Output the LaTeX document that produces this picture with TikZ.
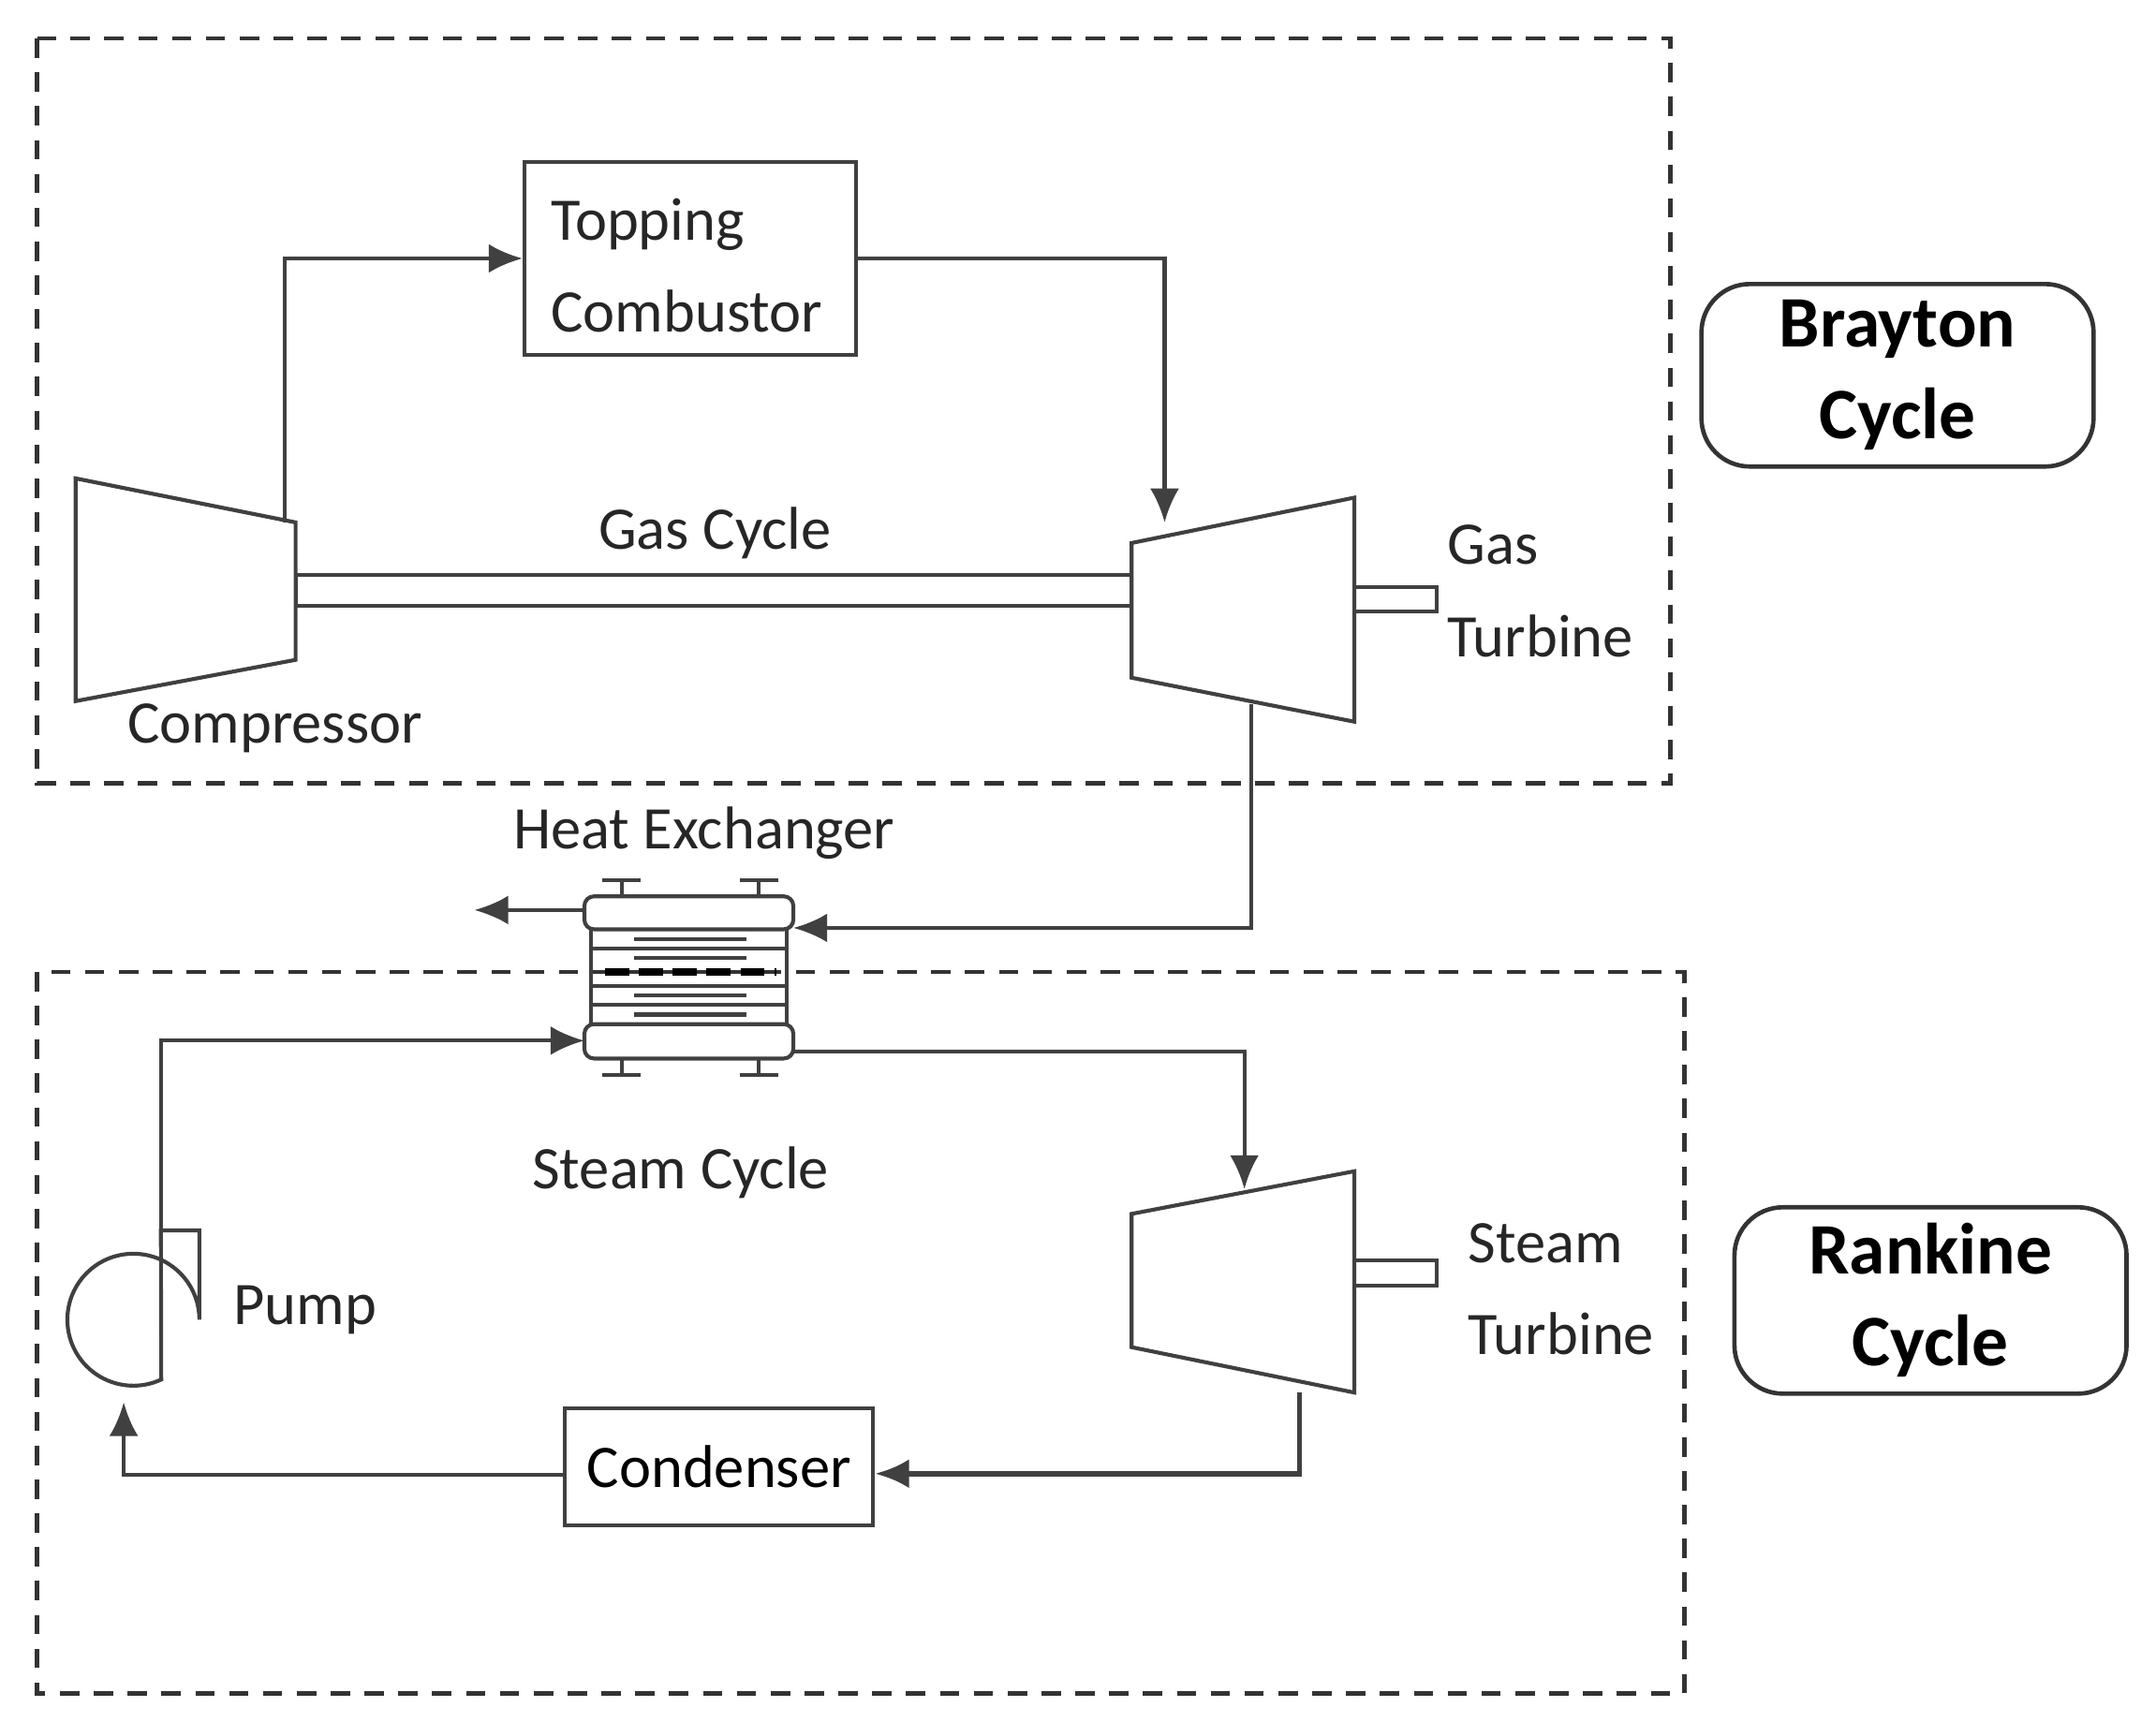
\documentclass[tikz,border=0pt]{standalone}
\usepackage{fontspec}
\setmainfont{Carlito}
\usetikzlibrary{arrows.meta}
\begin{document}
\begin{tikzpicture}[x=0.01cm,y=-0.01cm,
  ln/.style={draw=black!75,line width=0.8pt},
  arr/.style={ln,-{Latex[length=7pt,width=6pt]}},
  dashbox/.style={draw=black!80,line width=0.9pt,dash pattern=on 4pt off 3pt},
  lbl/.style={font=\fontsize{12.5}{16}\selectfont,text=black!85,inner sep=0pt},
  bold/.style={draw=black!80,line width=0.9pt,rounded corners=10pt,font=\fontsize{15}{19}\bfseries\selectfont,align=center}]
\useasboundingbox (0,0) rectangle (1568,1252);
% dashed regions
\draw[dashbox] (27,28) rectangle (1215,570);
\draw[dashbox] (27,707) rectangle (1225,1232);
% cycle labels
\node[bold,minimum width=2.85cm,minimum height=1.17cm] (bc) at (1380,273) {Brayton\\Cycle};
\node[bold,minimum width=2.85cm,minimum height=1.17cm] (rc) at (1404,946) {Rankine\\Cycle};
% topping combustor
\node[ln,minimum width=2.41cm,minimum height=1.4cm] (tc) at (502,188) {};
\node[lbl,anchor=west,align=left] at (400,193) {Topping\\[3pt]Combustor};
% compressor
\draw[ln] (55,348) -- (215,380) -- (215,480) -- (55,510) -- cycle;
\coordinate (cout) at (207,380);
% shaft
\draw[ln] (215,418) rectangle (823,441);
% gas turbine
\draw[ln] (823,395) -- (985,362) -- (985,525) -- (823,493) -- cycle;
\draw[ln] (985,427) rectangle (1045,445);
\coordinate (gtin) at (847,380);
\coordinate (gtout) at (910,512);
% heat exchanger
\draw[ln,rounded corners=2pt] (425,652) rectangle (577,676);
\draw[ln,rounded corners=2pt] (425,745) rectangle (577,770);
\draw[ln] (430,676) -- (430,745) (572,676) -- (572,745);
\foreach \y in {690,717,731} \draw[ln] (430,\y) -- (572,\y);
\foreach \y in {683,697,724,738} \draw[ln] (461,\y) -- (543,\y);
\draw[draw=black,line width=1.4pt,dash pattern=on 5pt off 2pt] (440,707) -- (565,707);
\foreach \x in {452,552} {
  \draw[ln] (\x,652) -- (\x,640) (\x-14,640) -- (\x+14,640);
  \draw[ln] (\x,770) -- (\x,782) (\x-14,782) -- (\x+14,782);}
\coordinate (hxgin) at (577,675);
\coordinate (hxgout) at (425,662);
\coordinate (gasex) at (345,662);
\coordinate (hxwin) at (425,757);
\coordinate (hxwout) at (577,765);
% pump
\draw[ln] (145,960) arc[start angle=0,end angle=-295,radius=48] -- (117,895) -- (145,895) -- cycle;
\coordinate (pout) at (117,895);
\coordinate (pin) at (90,1020);
% steam turbine
\draw[ln] (823,883) -- (985,852) -- (985,1013) -- (823,980) -- cycle;
\draw[ln] (985,917) rectangle (1045,935);
\coordinate (stin) at (905,865);
\coordinate (stout) at (945,1013);
% condenser
\node[ln,minimum width=2.24cm,minimum height=0.85cm,font=\fontsize{12.5}{16}\selectfont,inner sep=0pt] (cd) at (523,1067) {Condenser};
% connectors
\draw[arr] (cout) |- (tc.west);
\draw[arr] (tc.east) -| (gtin);
\draw[arr] (gtout) |- (hxgin);
\draw[arr] (hxgout) -- (gasex);
\draw[arr] (pout) |- (hxwin);
\draw[arr] (hxwout) -| (stin);
\draw[arr,line width=1.1pt] (stout) |- (cd.east |- 0,1072);
\draw[arr] (cd.west |- 0,1073) -| (pin);
% labels
\node[lbl] (l1) at (520,388) {Gas Cycle};
\node[lbl,anchor=west,align=left] (l2) at (1052,430) {Gas\\[3pt]Turbine};
\node[lbl] (l3) at (200,530) {Compressor};
\node[lbl] (l4) at (512,606) {Heat Exchanger};
\node[lbl] (l5) at (495,853) {Steam Cycle};
\node[lbl] (l6) at (222,953) {Pump};
\node[lbl,anchor=west,align=left] (l7) at (1067,938) {Steam\\[3pt]Turbine};
\end{tikzpicture}
\end{document}
